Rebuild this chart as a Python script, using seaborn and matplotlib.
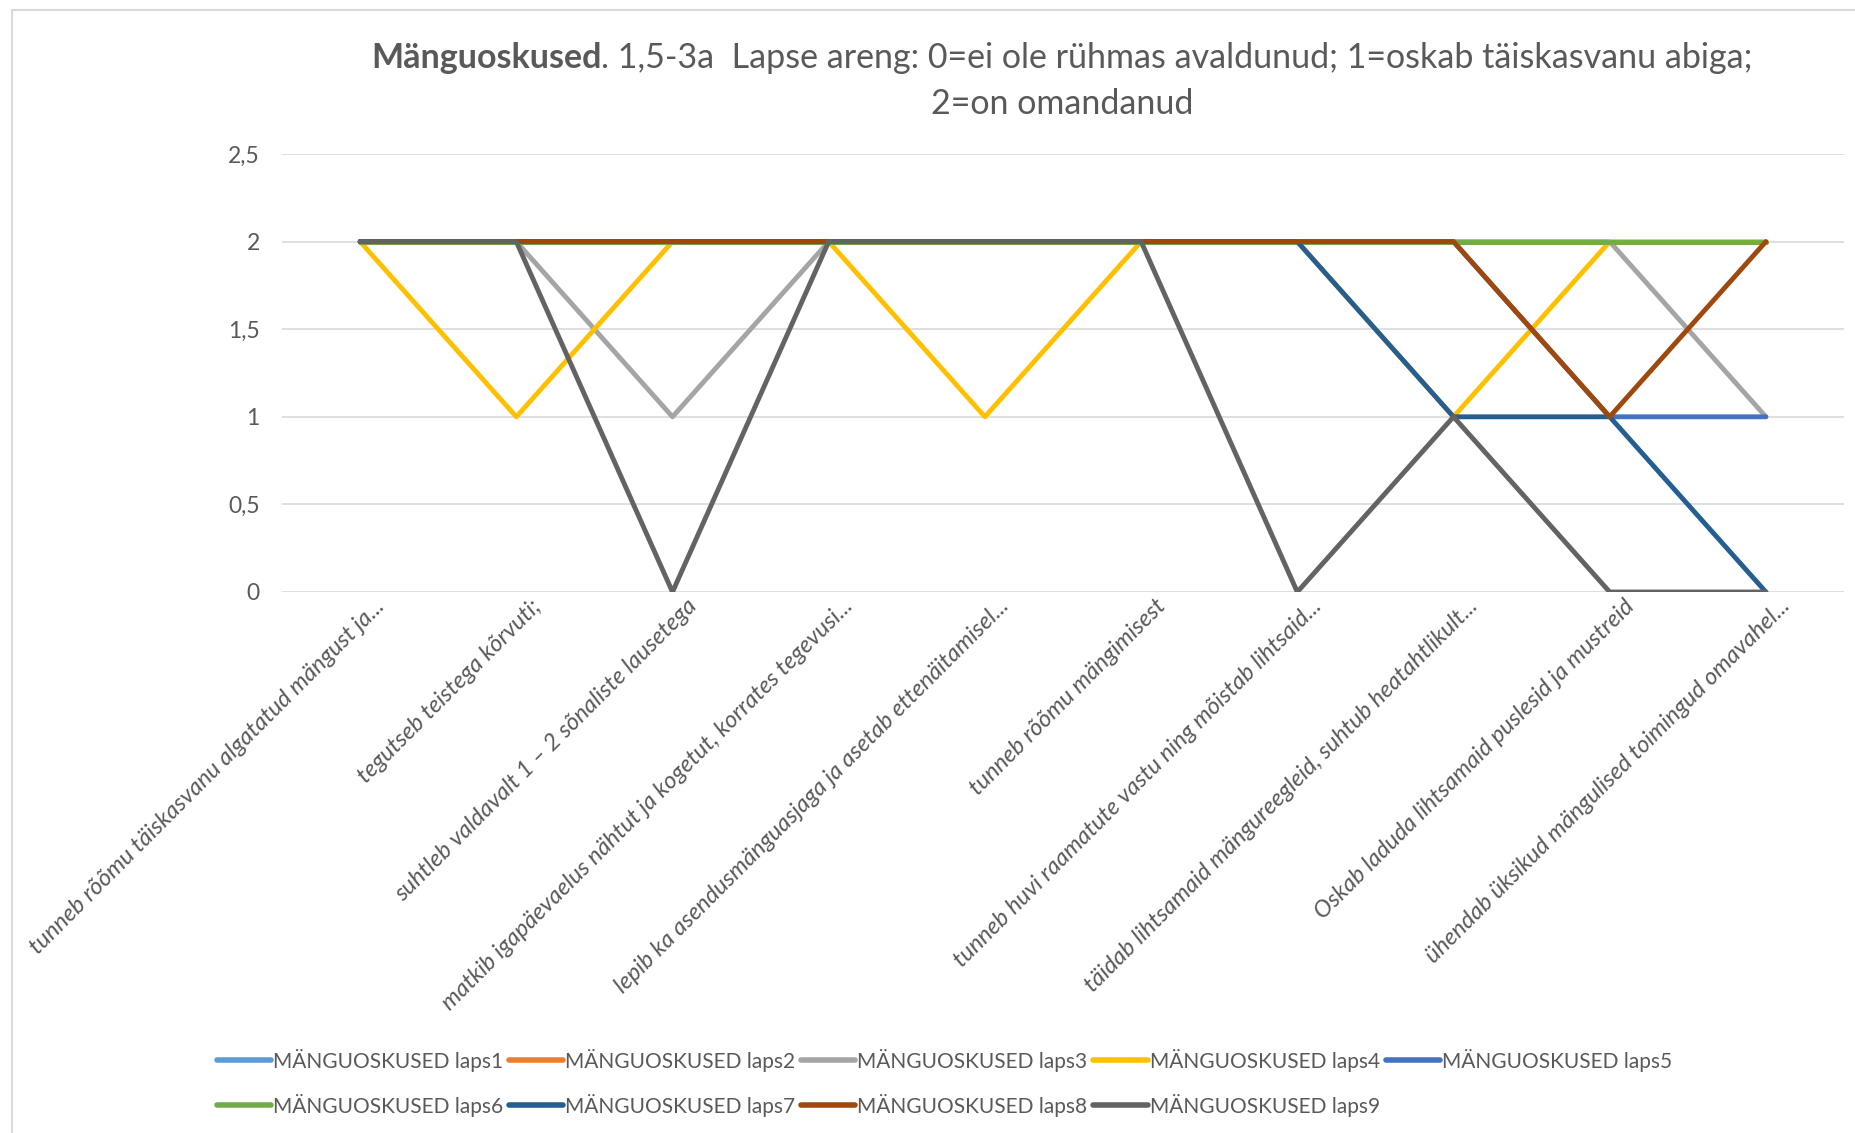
import pandas as pd
import matplotlib.pyplot as plt
import matplotlib.transforms as mtransforms
from matplotlib.patches import Rectangle
import seaborn as sns

# andmed
kategooriad = [
    'tunneb rõõmu täiskasvanu algatatud mängust ja...',
    'tegutseb teistega kõrvuti;',
    'suhtleb valdavalt 1 – 2 sõnaliste lausetega',
    'matkib igapäevaelus nähtut ja kogetut, korrates tegevusi...',
    'lepib ka asendusmänguasjaga ja asetab ettenäitamisel...',
    'tunneb rõõmu mängimisest',
    'tunneb huvi raamatute vastu ning mõistab lihtsaid...',
    'täidab lihtsamaid mängureegleid, suhtub heatahtlikult...',
    'Oskab laduda lihtsamaid puslesid ja mustreid',
    'ühendab üksikud mängulised toimingud omavahel...',
]
laps1 = [2, 2, 2, 2, 2, 2, 2, 2, 2, 2]
laps2 = [2, 2, 2, 2, 2, 2, 2, 2, 2, 2]
laps3 = [2, 2, 1, 2, 2, 2, 2, 2, 2, 1]
laps4 = [2, 1, 2, 2, 1, 2, 2, 1, 2, 2]
laps5 = [2, 2, 2, 2, 2, 2, 2, 2, 1, 1]
laps6 = [2, 2, 2, 2, 2, 2, 2, 2, 2, 2]
laps7 = [2, 2, 2, 2, 2, 2, 2, 1, 1, 0]
laps8 = [2, 2, 2, 2, 2, 2, 2, 2, 1, 2]
laps9 = [2, 2, 0, 2, 2, 2, 0, 1, 0, 0]

seeriad = [laps1, laps2, laps3, laps4, laps5, laps6, laps7, laps8, laps9]
nimed = ['MÄNGUOSKUSED laps%d' % (i + 1) for i in range(9)]
varvid = ['#5B9BD5', '#ED7D31', '#A5A5A5', '#FFC000', '#4472C4',
          '#70AD47', '#255E91', '#9E480E', '#636363']

rows = []
for nimi, vals in zip(nimed, seeriad):
    for i, v in enumerate(vals):
        rows.append({'nr': i, 'hinne': v, 'laps': nimi})
df = pd.DataFrame(rows)

sns.set_style('white')
plt.rcParams['font.family'] = ['Lato', 'DejaVu Sans']
plt.rcParams['lines.solid_capstyle'] = 'round'
plt.rcParams['lines.solid_joinstyle'] = 'round'

fig = plt.figure(figsize=(18.56, 11.33), dpi=100)
ax = fig.add_axes([282 / 1856, 1 - 592 / 1133, (1844 - 282) / 1856, (592 - 154) / 1133])

sns.lineplot(data=df, x='nr', y='hinne', hue='laps', hue_order=nimed,
             palette=varvid, linewidth=3.5, sort=False, ax=ax)
handles, labels = ax.get_legend_handles_labels()
ax.get_legend().remove()

ax.set_xlim(-0.5, 9.5)
ax.set_ylim(0, 2.5)
yt = [0, 0.5, 1, 1.5, 2, 2.5]
ax.set_yticks(yt)
ax.set_yticklabels([f'{v:g}'.replace('.', ',') for v in yt], fontsize=16.5, color='#595959')
ax.set_xticks(range(len(kategooriad)))
ax.set_xticklabels([])
ax.tick_params(axis='y', length=0, pad=16)
ax.tick_params(axis='x', length=0)

# kategooriate sildid 45 kraadi all, nihkega paremale
off = mtransforms.ScaledTranslation(0.21, -0.11, fig.dpi_scale_trans)
for i, k in enumerate(kategooriad):
    ax.text(i, 0, k, transform=ax.get_xaxis_transform() + off,
            rotation=45, ha='right', va='center', rotation_mode='anchor',
            fontsize=17, style='italic', color='#595959')

ax.grid(axis='y', color='#D9D9D9', linewidth=1.2)
ax.set_axisbelow(True)
for s in ax.spines.values():
    s.set_visible(False)
ax.set_xlabel('')
ax.set_ylabel('')

# diagrammi raam
fig.patches.append(Rectangle((12 / 1856, -0.05), 1.1, 1 - 10 / 1133 + 0.05,
                             transform=fig.transFigure, fill=False,
                             edgecolor='#D9D9D9', linewidth=1.5))

# pealkiri (osaliselt paks)
cx = 1062 / 1856
y1 = 1 - 58 / 1133
t_bold = fig.text(0, y1, 'Mänguoskused', fontsize=24.5, weight='bold', color='#595959', va='center')
t_rest = fig.text(0, y1, '. 1,5-3a  Lapse areng: 0=ei ole rühmas avaldunud; 1=oskab täiskasvanu abiga;',
                  fontsize=24.5, color='#595959', va='center')
fig.text(cx, 1 - 104 / 1133, '2=on omandanud', fontsize=24.5, color='#595959', va='center', ha='center')
fig.canvas.draw()
r = fig.canvas.get_renderer()
w1 = t_bold.get_window_extent(r).width / fig.bbox.width
w2 = t_rest.get_window_extent(r).width / fig.bbox.width
x0 = cx - (w1 + w2) / 2
t_bold.set_x(x0)
t_rest.set_x(x0 + w1)

# legend reakaupa
jarjekord = [0, 5, 1, 6, 2, 7, 3, 8, 4]
leg = fig.legend([handles[i] for i in jarjekord], [labels[i] for i in jarjekord],
                 ncol=5, loc='upper left',
                 bbox_to_anchor=(198 / 1856, 1 - 1030 / 1133), frameon=False,
                 fontsize=15, labelcolor='#595959', handlelength=2.6,
                 handletextpad=0.1, columnspacing=0.28, labelspacing=1.05)
for h in leg.get_lines():
    h.set_linewidth(4)

fig.savefig('out.png', dpi=100)
